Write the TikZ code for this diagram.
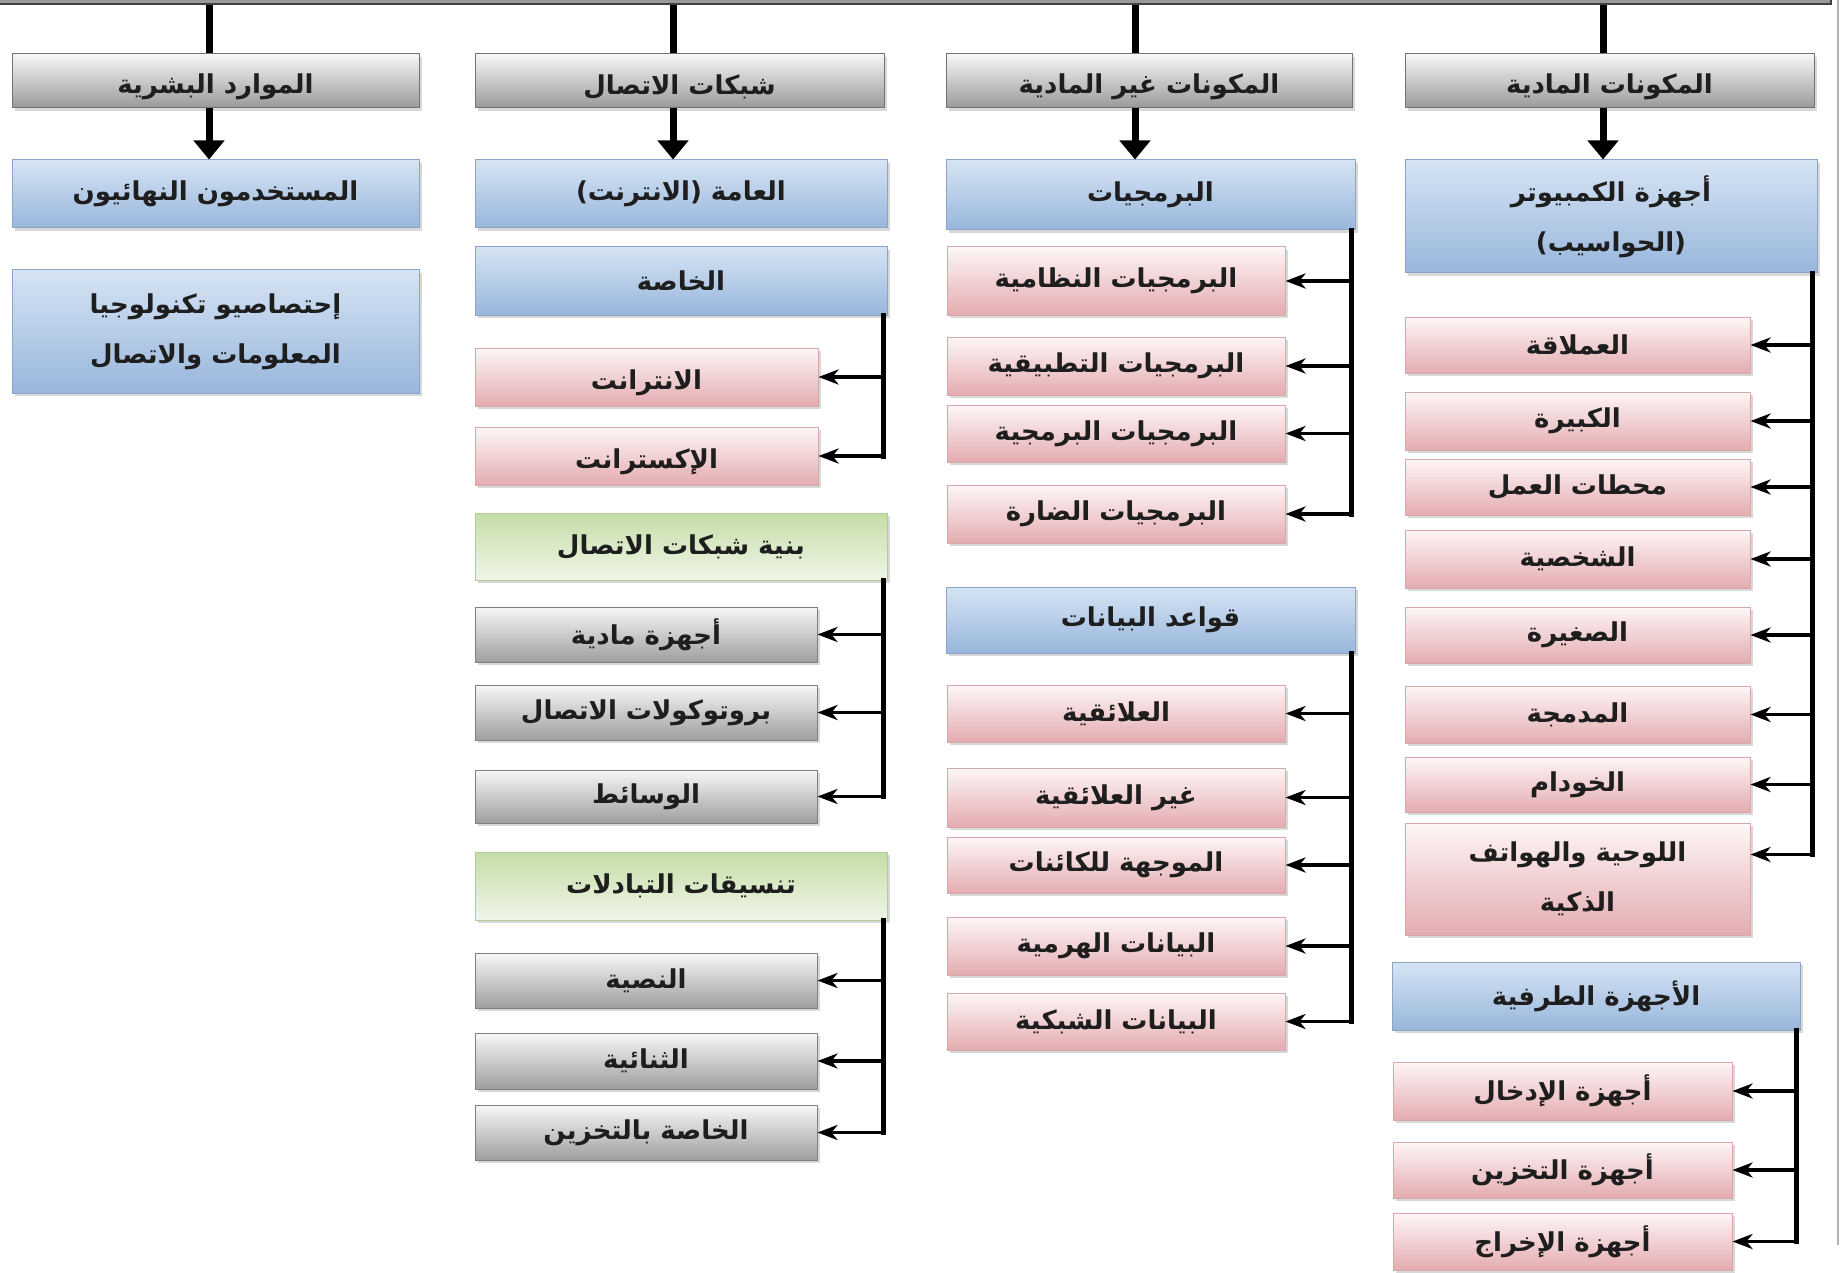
\documentclass[tikz,border=0pt]{standalone}
\usepackage{fontspec}
\newfontfamily\ar[Script=Arabic]{DejaVu Sans}
\TeXXeTstate=1
\usetikzlibrary{arrows.meta,shadows,calc}
\definecolor{txt}{HTML}{1E1E1E}
\newcommand\hdtext[1]{\raisebox{-6pt}[\height][\depth]{\beginR #1\endR}}
\tikzset{
  box/.style={rectangle, inner sep=0pt, line width=1pt, align=center, text=txt,
    font=\ar\bfseries\fontsize{26}{50}\selectfont,
    drop shadow={shadow xshift=3pt, shadow yshift=-3pt, opacity=0.3}},
  hdr/.style={box, top color=white!97!black, bottom color=black!40, draw=black!55},
  gry/.style={box, top color=white!97!black, bottom color=black!38, draw=black!50},
  blu/.style={box, top color={rgb,255:red,214;green,228;blue,244}, bottom color={rgb,255:red,152;green,182;blue,220}, draw={rgb,255:red,140;green,164;blue,200}},
  pnk/.style={box, top color={rgb,255:red,254;green,246;blue,246}, bottom color={rgb,255:red,228;green,172;blue,176}, draw={rgb,255:red,214;green,168;blue,172}},
  grn/.style={box, top color={rgb,255:red,196;green,221;blue,166}, bottom color={rgb,255:red,240;green,246;blue,232}, draw={rgb,255:red,180;green,204;blue,150}},
  trunk/.style={line width=7pt, black},
  down/.style={trunk, -{Triangle[width=30pt,length=19pt]}},
  spine/.style={line width=5pt, black, line cap=rect},
  branch/.style={line width=3.5pt, black, -{Stealth[length=20pt,width=15pt,inset=6pt]}},
}
\newcommand\bx[7]{\node[#2, minimum width={(#5)-(#3)}, minimum height={(#6)-(#4)}] (#1) at ({((#3)+(#5))/2},{((#4)+(#6))/2}) {#7};}
\begin{document}
\begin{tikzpicture}[x=1pt,y=-1pt]
\useasboundingbox (0,0) rectangle (1841,1273);
\fill[white] (0,0) rectangle (1841,1273);
\draw[black!30, line width=1.5pt] (1838,0) -- (1838,1245);
% top bar (bottom of a cut-off box)
\node[fill=black!40, draw=black!75, line width=1.5pt, minimum width=1850, minimum height=30, inner sep=0pt, anchor=south west] (topbar) at (-20,5) {};
% headers
\bx{h1}{hdr}{12}{54}{419}{108}{\hdtext{الموارد البشرية}}
\bx{h2}{hdr}{475}{54}{884}{108}{\hdtext{شبكات الاتصال}}
\bx{h3}{hdr}{946}{54}{1352}{108}{\hdtext{المكونات غير المادية}}
\bx{h4}{hdr}{1405}{54}{1814}{108}{\hdtext{المكونات المادية}}
% column 1
\bx{a1}{blu}{12}{160}{419}{228}{\beginR المستخدمون النهائيون\endR}
\bx{a2}{blu}{12}{270}{419}{393}{\beginR إحتصاصيو تكنولوجيا\endR\\\beginR المعلومات والاتصال\endR}
% column 2
\bx{b1}{blu}{475}{160}{887}{228}{\beginR العامة (الانترنت)\endR}
\bx{b2}{blu}{475}{247}{887}{315}{\beginR الخاصة\endR}
\bx{b3}{pnk}{475}{348}{818}{406}{\hdtext{الانترانت}}
\bx{b4}{pnk}{475}{427}{818}{485}{\hdtext{الإكسترانت}}
\bx{b5}{grn}{475}{513}{887}{580}{\beginR بنية شبكات الاتصال\endR}
\bx{b6}{gry}{475}{607}{817}{662}{\beginR أجهزة مادية\endR}
\bx{b7}{gry}{475}{685}{817}{740}{\beginR بروتوكولات الاتصال\endR}
\bx{b8}{gry}{475}{770}{817}{823}{\beginR الوسائط\endR}
\bx{b9}{grn}{475}{852}{887}{920}{\beginR تنسيقات التبادلات\endR}
\bx{b10}{gry}{475}{953}{817}{1008}{\beginR النصية\endR}
\bx{b11}{gry}{475}{1033}{817}{1089}{\beginR الثنائية\endR}
\bx{b12}{gry}{475}{1105}{817}{1160}{\beginR الخاصة بالتخزين\endR}
% column 3
\bx{c1}{blu}{946}{160}{1355}{230}{\beginR البرمجيات\endR}
\bx{c2}{pnk}{947}{247}{1285}{315}{\beginR البرمجيات النظامية\endR}
\bx{c3}{pnk}{947}{337}{1285}{395}{\beginR البرمجيات التطبيقية\endR}
\bx{c4}{pnk}{947}{405}{1285}{462}{\beginR البرمجيات البرمجية\endR}
\bx{c5}{pnk}{947}{485}{1285}{543}{\beginR البرمجيات الضارة\endR}
\bx{c6}{blu}{946}{587}{1355}{653}{\beginR قواعد البيانات\endR}
\bx{c7}{pnk}{947}{685}{1285}{742}{\beginR العلائقية\endR}
\bx{c8}{pnk}{947}{768}{1285}{827}{\beginR غير العلائقية\endR}
\bx{c9}{pnk}{947}{837}{1285}{893}{\beginR الموجهة للكائنات\endR}
\bx{c10}{pnk}{947}{917}{1285}{975}{\beginR البيانات الهرمية\endR}
\bx{c11}{pnk}{947}{993}{1285}{1050}{\beginR البيانات الشبكية\endR}
% column 4
\bx{d1}{blu}{1405}{160}{1817}{273}{\beginR أجهزة الكمبيوتر\endR\\\beginR (الحواسيب)\endR}
\bx{d2}{pnk}{1405}{317}{1750}{373}{\beginR العملاقة\endR}
\bx{d3}{pnk}{1405}{392}{1750}{450}{\beginR الكبيرة\endR}
\bx{d4}{pnk}{1405}{459}{1750}{515}{\beginR محطات العمل\endR}
\bx{d5}{pnk}{1405}{530}{1750}{588}{\beginR الشخصية\endR}
\bx{d6}{pnk}{1405}{607}{1750}{663}{\beginR الصغيرة\endR}
\bx{d7}{pnk}{1405}{686}{1750}{743}{\beginR المدمجة\endR}
\bx{d8}{pnk}{1405}{757}{1750}{812}{\beginR الخودام\endR}
\bx{d9}{pnk}{1405}{823}{1750}{935}{\beginR اللوحية والهواتف\endR\\\beginR الذكية\endR}
\bx{e1}{blu}{1392}{962}{1800}{1030}{\beginR الأجهزة الطرفية\endR}
\bx{e2}{pnk}{1393}{1062}{1732}{1120}{\beginR أجهزة الإدخال\endR}
\bx{e3}{pnk}{1393}{1142}{1732}{1198}{\beginR أجهزة التخزين\endR}
\bx{e4}{pnk}{1393}{1213}{1732}{1270}{\beginR أجهزة الإخراج\endR}
% trunks and down arrows
\coordinate (t1) at (209,0);
\coordinate (t2) at (673,0);
\coordinate (t3) at (1135,0);
\coordinate (t4) at (1603,0);
\draw[trunk] (t1 |- topbar.south) -- (t1 |- h1.north);
\draw[trunk] (t2 |- topbar.south) -- (t2 |- h2.north);
\draw[trunk] (t3 |- topbar.south) -- (t3 |- h3.north);
\draw[trunk] (t4 |- topbar.south) -- (t4 |- h4.north);
\draw[down] (t1 |- h1.south) -- (t1 |- a1.north);
\draw[down] (t2 |- h2.south) -- (t2 |- b1.north);
\draw[down] (t3 |- h3.south) -- (t3 |- c1.north);
\draw[down] (t4 |- h4.south) -- (t4 |- d1.north);
% spines
\coordinate (sb2) at ($(b2.south east)+(-4,0)$);
\coordinate (sb5) at ($(b5.south east)+(-4,0)$);
\coordinate (sb9) at ($(b9.south east)+(-4,0)$);
\coordinate (sc1) at ($(c1.south east)+(-4,0)$);
\coordinate (sc6) at ($(c6.south east)+(-4,0)$);
\coordinate (sd1) at ($(d1.south east)+(-5,0)$);
\coordinate (se1) at ($(e1.south east)+(-4,0)$);
\coordinate (d9a) at ($(d9.north east)+(0,32)$);
\draw[spine] (sb2) -- (b4.east -| sb2);
\draw[spine] (sb5) -- (b8.east -| sb5);
\draw[spine] (sb9) -- (b12.east -| sb9);
\draw[spine] (sc1) -- (c5.east -| sc1);
\draw[spine] (sc6) -- (c11.east -| sc6);
\draw[spine] (sd1) -- (d9a -| sd1);
\draw[spine] (se1) -- (e4.east -| se1);
\foreach \n in {b3,b4}{\draw[branch] (\n.east -| sb2) -- (\n.east);}
\foreach \n in {b6,b7,b8}{\draw[branch] (\n.east -| sb5) -- (\n.east);}
\foreach \n in {b10,b11,b12}{\draw[branch] (\n.east -| sb9) -- (\n.east);}
\foreach \n in {c2,c3,c4,c5}{\draw[branch] (\n.east -| sc1) -- (\n.east);}
\foreach \n in {c7,c8,c9,c10,c11}{\draw[branch] (\n.east -| sc6) -- (\n.east);}
\foreach \n in {d2,d3,d4,d5,d6,d7,d8}{\draw[branch] (\n.east -| sd1) -- (\n.east);}
\draw[branch] (d9a -| sd1) -- (d9a);
\foreach \n in {e2,e3,e4}{\draw[branch] (\n.east -| se1) -- (\n.east);}
\end{tikzpicture}
\end{document}
